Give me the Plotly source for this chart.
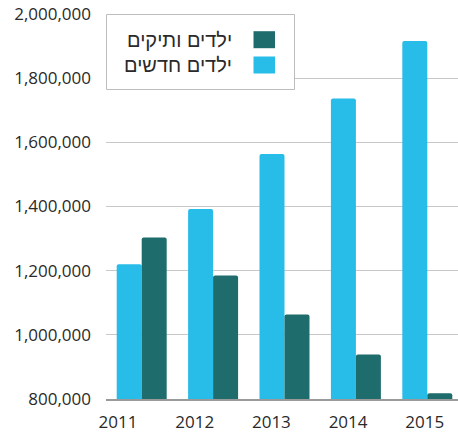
import plotly.graph_objects as go

years = ["2011", "2012", "2013", "2014", "2015"]
new_children = [1220000, 1392000, 1564000, 1737000, 1916000]
veteran_children = [1303000, 1185000, 1063000, 939000, 818000]
name_new = "ילדים חדשים"
name_veteran = "ילדים ותיקים"
color_new = "#28BCE8"
color_veteran = "#1E6C6C"

W, H = 458, 432
L, R, T, B = 106, 0, 14, 33
FONT = "Open Sans, DejaVu Sans, sans-serif"
HEB_FONT = "Liberation Sans, Arial, sans-serif"


def px(x):
    return (x - L) / (W - L - R)


def py(y):
    return (H - B - y) / (H - T - B)


fig = go.Figure()
fig.add_trace(go.Bar(x=years, y=new_children, name=name_new,
                     marker=dict(color=color_new, cornerradius=2, line=dict(width=0))))
fig.add_trace(go.Bar(x=years, y=veteran_children, name=name_veteran,
                     marker=dict(color=color_veteran, cornerradius=2, line=dict(width=0))))
# carrier trace for the label axis (draws nothing)
fig.add_trace(go.Scatter(x=years, y=new_children, xaxis="x2", mode="none",
                         hoverinfo="skip", showlegend=False))

shapes = []
annotations = []
# legend box
shapes.append(dict(type="rect", xref="paper", yref="paper",
                   x0=px(106.5), x1=px(294.5), y0=py(89.5), y1=py(14.5),
                   line=dict(color="#BDBDBD", width=1), fillcolor="white", layer="above"))
for name, col, yc in [(name_veteran, color_veteran, 39.7), (name_new, color_new, 65)]:
    shapes.append(dict(type="rect", xref="paper", yref="paper",
                       x0=px(253.5), x1=px(275), y0=py(yc + 8.5), y1=py(yc - 8.5),
                       line=dict(width=0), fillcolor=col, layer="above"))
    annotations.append(dict(text=name, xref="paper", yref="paper", x=px(234), y=py(yc),
                            xanchor="right", yanchor="middle", showarrow=False,
                            font=dict(family=HEB_FONT, size=20, color="#2A2A2A")))

fig.update_layout(
    width=W, height=H,
    margin=dict(l=L, r=R, t=T, b=B),
    paper_bgcolor="white", plot_bgcolor="white",
    barmode="group", bargap=0.3, bargroupgap=0,
    showlegend=False,
    font=dict(family=FONT, size=17, color="#2A2A2A"),
    shapes=shapes, annotations=annotations,
    xaxis=dict(type="category", range=[-0.5, 4.43], showgrid=False,
               showline=True, linecolor="#9A9A9A", linewidth=2,
               ticks="", showticklabels=False),
    xaxis2=dict(type="category", categoryarray=years, categoryorder="array",
                overlaying="x", side="bottom", anchor="y",
                range=[-0.156, 4.433], showgrid=False, showline=False, zeroline=False,
                ticks="", ticklabelstandoff=11,
                tickfont=dict(family=FONT, size=17, color="#2A2A2A")),
    yaxis=dict(range=[800000, 2000000], tickvals=[800000, 1000000, 1200000, 1400000,
                                                   1600000, 1800000, 2000000],
               tickformat=",", showgrid=True, gridcolor="#C8C8C8", gridwidth=1,
               zeroline=False, showline=False, ticks="", ticklabelstandoff=14,
               tickfont=dict(family=FONT, size=17, color="#2A2A2A")),
)

fig.write_html("out.html")
